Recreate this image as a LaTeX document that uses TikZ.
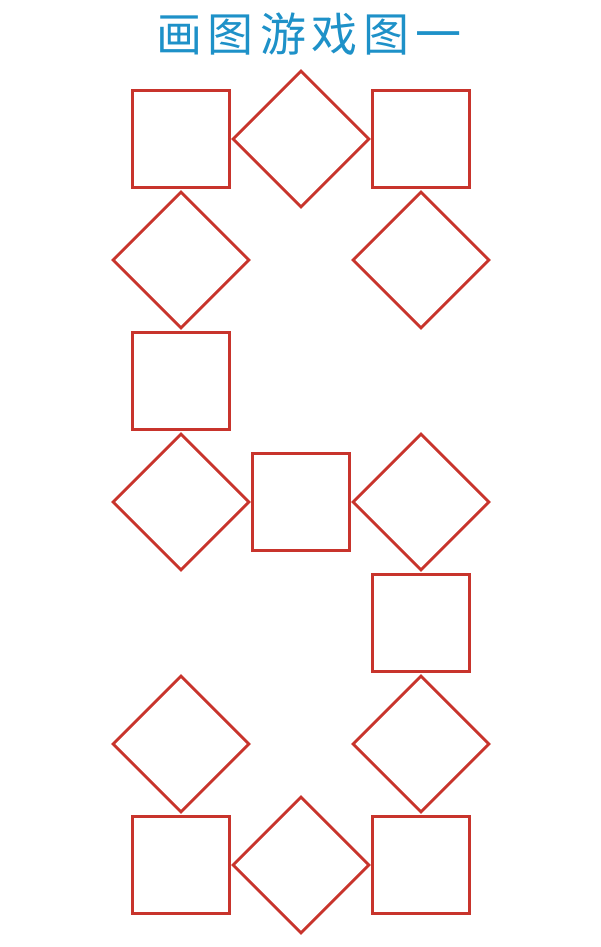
\documentclass[tikz,border=0pt]{standalone}
\usepackage{fontspec}
\newfontfamily\cjk{Noto Sans CJK SC}
\usetikzlibrary{shapes.geometric,positioning}

\definecolor{boxred}{RGB}{200,52,44}
\definecolor{titleblue}{RGB}{30,145,200}

\begin{document}
\begin{tikzpicture}[%
node distance=121pt and 120pt,
on grid,
sq/.style={draw=boxred,line width=2.8pt,inner sep=0pt,minimum size=97pt},
dm/.style={diamond,draw=boxred,line width=2.8pt,inner sep=0pt,minimum size=137pt}
]
\useasboundingbox (0,0) rectangle (600pt,-947pt);
\node[text=titleblue,font=\cjk\fontsize{46}{50}\selectfont\addfontfeature{LetterSpace=13}] (title) at (309pt,-34pt) {画图游戏图一};

% top row
\node[sq] (s1) at (181pt,-139pt) {};
\node[dm] (d1) [right=of s1] {};
\node[sq] (s2) [right=of d1] {};
\node[dm] (d2) [below=of s1] {};
\node[dm] (d3) [below=of s2] {};
\node[sq] (s3) [below=of d2] {};

% middle row
\node[dm] (d4) [below=of s3] {};
\node[sq] (s4) [right=of d4] {};
\node[dm] (d5) [right=of s4] {};
\node[sq] (s5) [below=of d5] {};
\node[dm] (d6) [below=of s5] {};
\node[dm] (d7) [below=242pt of d4] {};

% bottom row
\node[sq] (s6) [below=of d7] {};
\node[dm] (d8) [right=of s6] {};
\node[sq] (s7) [right=of d8] {};

\end{tikzpicture}
\end{document}
